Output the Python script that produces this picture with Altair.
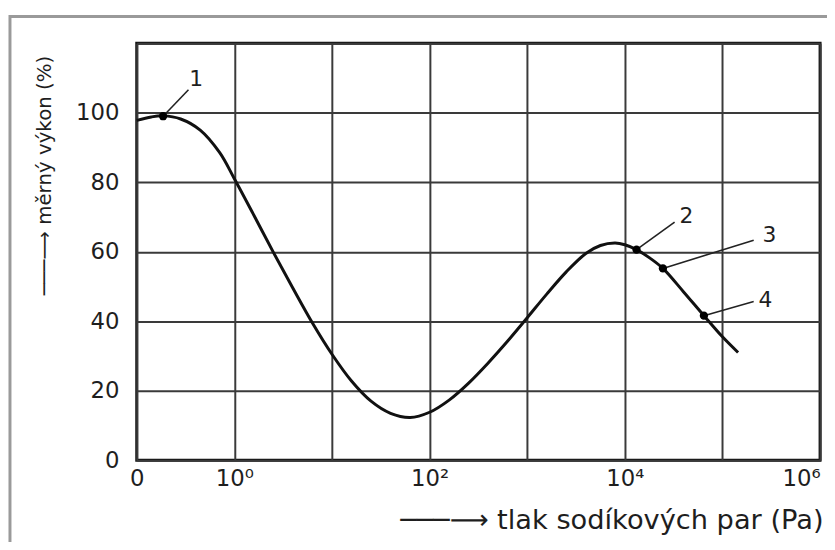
import altair as alt
import pandas as pd

# Curve: x = log10(pressure in Pa), left edge ("0") drawn at log = -1
curve_logp = [-1.0, -0.85, -0.73, -0.55, -0.35, -0.15, 0.0, 0.2, 0.4, 0.6, 0.8, 1.0,
              1.2, 1.4, 1.6, 1.8, 2.0, 2.2, 2.4, 2.6, 2.8, 3.0, 3.2, 3.4, 3.6, 3.75,
              3.9, 4.0, 4.12, 4.25, 4.39, 4.6, 4.81, 5.0, 5.16]
curve_value = [97.8, 98.8, 99.1, 98.2, 95.0, 88.5, 81.0, 70.5, 59.8, 49.5, 39.5, 30.5,
               22.8, 17.0, 13.5, 12.3, 13.8, 17.3, 22.2, 28.0, 34.3, 41.0, 47.8, 54.2, 59.5, 61.8,
               62.5, 62.0, 60.6, 58.3, 55.2, 48.5, 41.6, 35.5, 31.0]

point_ids = ["1", "2", "3", "4"]
point_logp = [-0.73, 4.12, 4.39, 4.81]
point_value = [99.0, 60.6, 55.2, 41.6]
label_logp = [-0.39, 4.63, 5.48, 5.44]
label_value = [109.7, 70.4, 64.7, 46.2]
leader_logp = [-0.47, 4.51, 5.32, 5.32]
leader_value = [106.6, 68.5, 63.3, 45.7]

x_grid = [-1, 0, 1, 2, 3, 4, 5, 6]
x_tick_text = {-1: "0", 0: "10⁰", 2: "10²", 4: "10⁴", 6: "10⁶"}
y_grid = [0, 20, 40, 60, 80, 100, 120]
y_tick_text = {0: "0", 20: "20", 40: "40", 60: "60", 80: "80", 100: "100"}

x_title = "───⟶ tlak sodíkových par (Pa)"
y_title = "───⟶ měrný výkon (%)"

def label_expr(mapping):
    expr = "''"
    for k, v in reversed(list(mapping.items())):
        expr = f"datum.value == {k} ? '{v}' : ({expr})"
    return expr

curve_df = pd.DataFrame({"logp": curve_logp, "value": curve_value})
pts_df = pd.DataFrame({"id": point_ids, "logp": point_logp, "value": point_value})
lab_df = pd.DataFrame({"id": point_ids, "logp": label_logp, "value": label_value})
lead_df = pd.DataFrame({"logp": point_logp, "value": point_value,
                        "logp2": leader_logp, "value2": leader_value})

FONT = "DejaVu Sans"
INK = "#1e1e1e"
xs = alt.Scale(domain=[-1, 6], nice=False, zero=False)
ys = alt.Scale(domain=[0, 120], nice=False, zero=False)

x_axis = alt.Axis(values=x_grid, labelExpr=label_expr(x_tick_text), title=x_title,
                  grid=True, ticks=False, domain=False, labelPadding=8,
                  labelFontSize=23, labelFlush=False, labelOverlap=False,
                  labelAlign={"condition": {"test": f"datum.value == {x_grid[-1]}", "value": "right"},
                              "value": "center"},
                  titleFontSize=27.5, titleFontWeight="normal", titleAnchor="end",
                  titleAlign="right", titleX=693, titleY=61, titleBaseline="middle")
y_axis = alt.Axis(values=y_grid, labelExpr=label_expr(y_tick_text), title=y_title,
                  grid=True, ticks=False, domain=False, labelPadding=18,
                  labelFontSize=23, labelFlush=False, labelOverlap=False,
                  titleFontSize=20, titleFontWeight="normal", titleAngle=270,
                  titleAlign="center", titleBaseline="middle", titleX=-93, titleY=133)

frame = alt.Chart(pd.DataFrame({"k": [0]})).mark_rect(
    fill=None, stroke="#9a9a9a", strokeWidth=3
).encode(x=alt.value(-128), x2=alt.value(900), y=alt.value(-27), y2=alt.value(600))

line = alt.Chart(curve_df).mark_line(
    color="#111", strokeWidth=3, interpolate="catmull-rom"
).encode(
    x=alt.X("logp:Q", scale=xs, axis=x_axis),
    y=alt.Y("value:Q", scale=ys, axis=y_axis),
)

leaders = alt.Chart(lead_df).mark_rule(color="#222", strokeWidth=1.6).encode(
    x=alt.X("logp:Q", scale=xs), x2="logp2:Q",
    y=alt.Y("value:Q", scale=ys), y2="value2:Q",
)

points = alt.Chart(pts_df).mark_point(
    filled=True, color="#000", size=70, opacity=1
).encode(x=alt.X("logp:Q", scale=xs), y=alt.Y("value:Q", scale=ys))

labels = alt.Chart(lab_df).mark_text(
    font=FONT, fontSize=22, color=INK, align="center", baseline="middle"
).encode(x=alt.X("logp:Q", scale=xs), y=alt.Y("value:Q", scale=ys), text="id:N")

chart = alt.layer(frame, line, leaders, points, labels).properties(
    width=690, height=421,
    background="white",
    autosize=alt.AutoSizeParams(type="none"),
    padding={"left": 130, "top": 33, "right": 7, "bottom": 80},
).configure_view(
    stroke="#111", strokeWidth=3
).configure_axis(
    labelFont=FONT, titleFont=FONT, labelColor=INK, titleColor=INK,
    gridColor="#3a3a3a", gridWidth=2, gridOpacity=1,
)

chart.save("out.html", embed_options={"renderer": "svg", "actions": False})
